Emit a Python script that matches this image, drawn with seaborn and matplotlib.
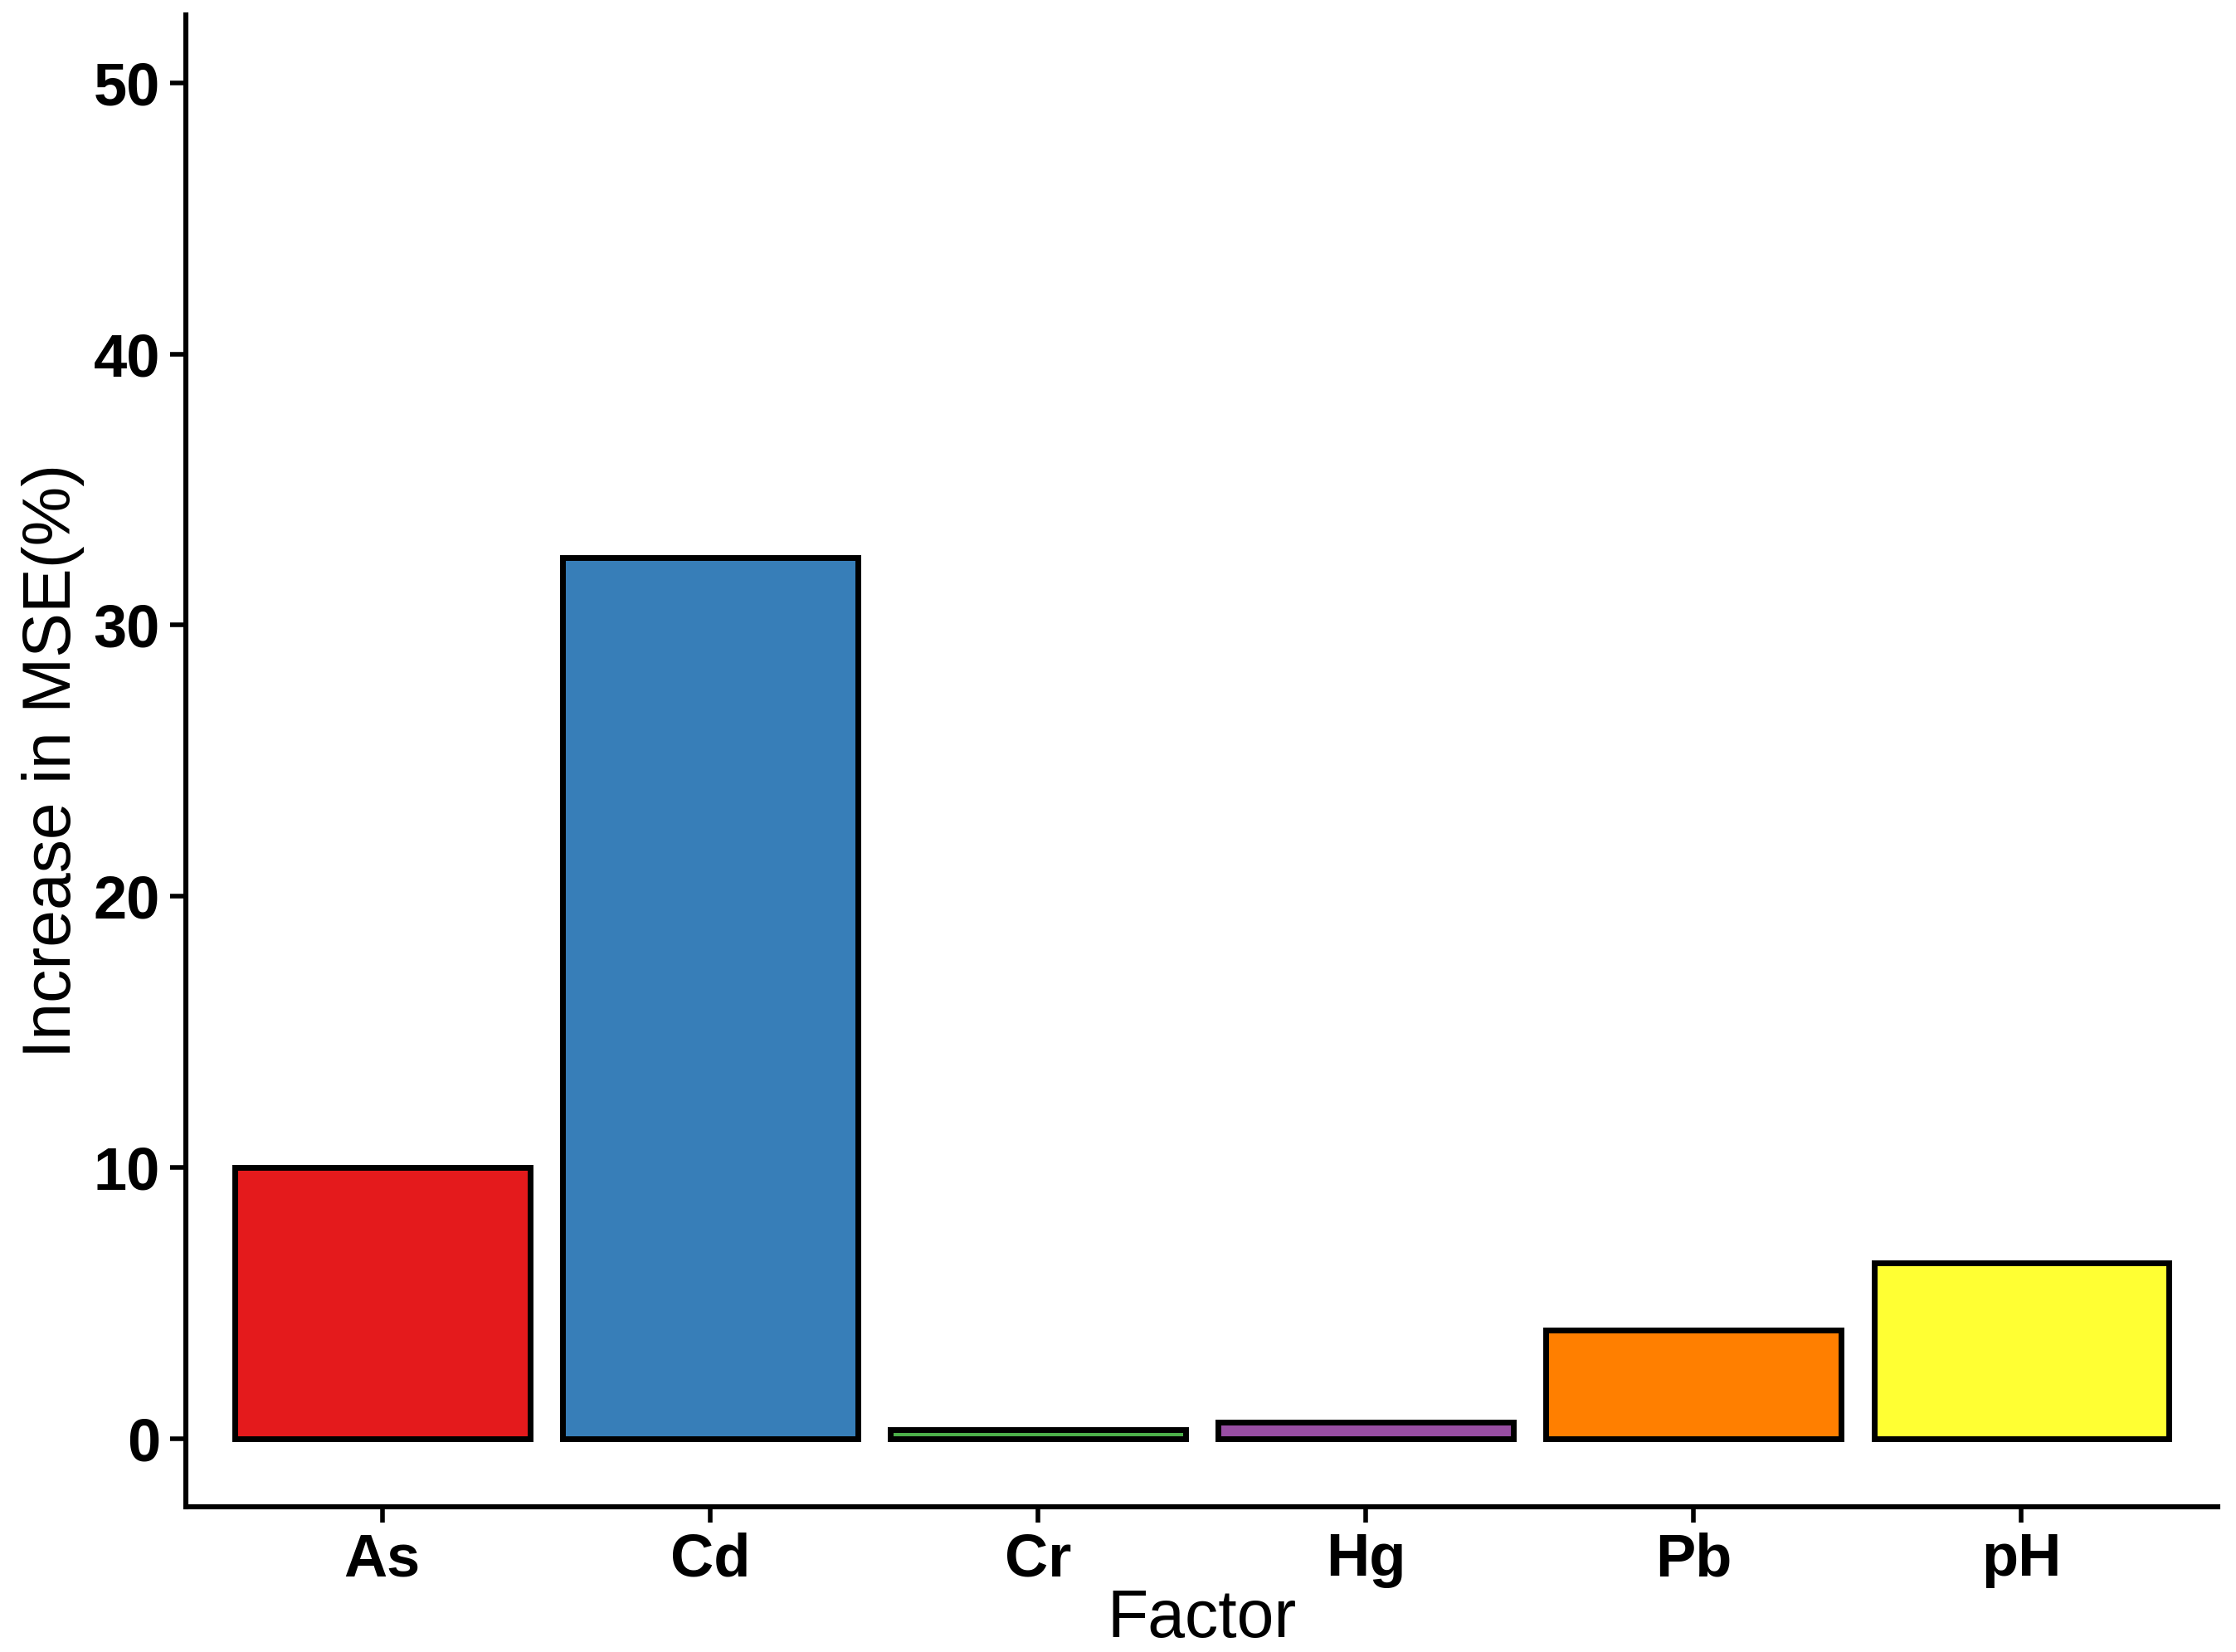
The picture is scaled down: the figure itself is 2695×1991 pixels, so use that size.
import matplotlib
matplotlib.use("Agg")
import matplotlib.pyplot as plt
import pandas as pd
import seaborn as sns

factors = ["As", "Cd", "Cr", "Hg", "Pb", "pH"]
mse_increase = [10.0, 32.5, 0.35, 0.6, 4.0, 6.5]
colors = ["#E41A1C", "#377EB8", "#4DAF4A", "#984EA3", "#FF7F00", "#FFFF33"]

df = pd.DataFrame({"Factor": factors, "MSE": mse_increase})

sns.set_style("ticks")
plt.rcParams["font.family"] = ["Liberation Sans", "DejaVu Sans"]
plt.rcParams["text.color"] = "black"
plt.rcParams["axes.labelcolor"] = "black"
plt.rcParams["xtick.color"] = "black"
plt.rcParams["ytick.color"] = "black"
plt.rcParams["axes.edgecolor"] = "black"

fig = plt.figure(figsize=(13.475, 9.955), dpi=200)
ax = fig.add_axes([0.083, 0.088, 0.909, 0.903])
sns.barplot(data=df, x="Factor", y="MSE", hue="Factor", palette=colors, legend=False,
            width=0.9, edgecolor="black", linewidth=2.5, saturation=1, ax=ax)

ax.set_xlim(-0.6, 5.6)
ax.set_ylim(-2.5, 52.5)
ax.set_yticks([0, 10, 20, 30, 40, 50])
ax.set_xlabel("Factor", fontsize=29, labelpad=0)
ax.set_ylabel("Increase in MSE(%)", fontsize=29, labelpad=4)
ax.tick_params(labelsize=26, width=2, length=7, pad=4)
for lab in ax.get_xticklabels() + ax.get_yticklabels():
    lab.set_fontweight("bold")
for side in ["top", "right"]:
    ax.spines[side].set_visible(False)
for side in ["left", "bottom"]:
    ax.spines[side].set_linewidth(2.2)

fig.savefig("out.png", dpi=200)
